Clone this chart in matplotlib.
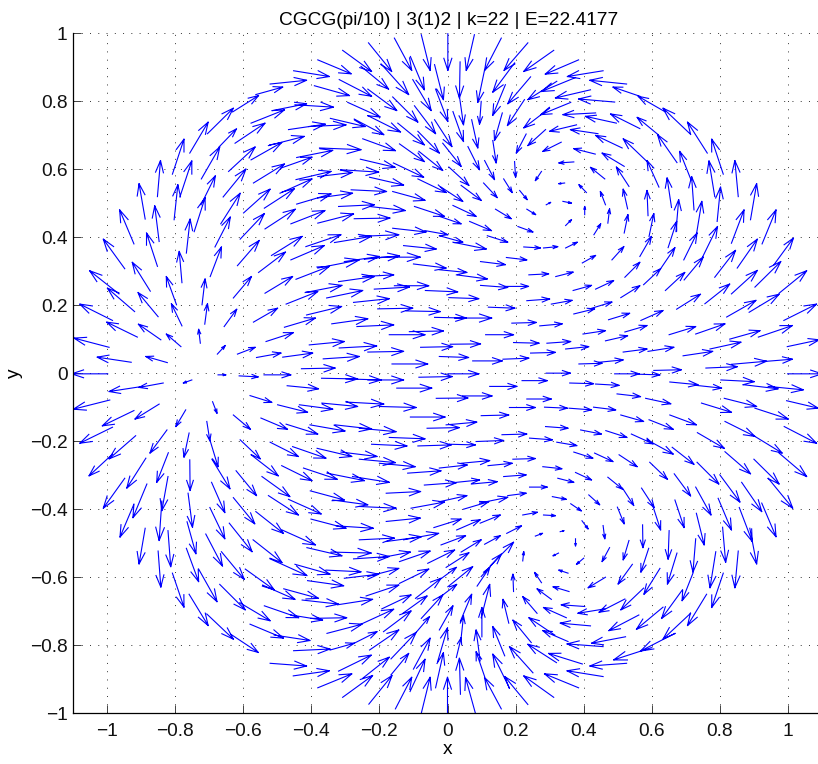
import numpy as np
from matplotlib import pyplot as plt
from matplotlib import rc

rc('font', family='Liberation Sans')

# each row: tail x, tail y, tip x, tip y (data units)
top_left = [
    (-.705,.704,-.629,.779),(-.631,.768,-.555,.816),(-.757,.647,-.703,.738),(-.624,.676,-.536,.735),
    (-.808,.585,-.774,.688),(-.786,.518,-.751,.624),(-.723,.571,-.669,.665),(-.671,.665,-.620,.718),
    (-.643,.593,-.565,.665),(-.852,.519,-.843,.625),(-.659,.518,-.592,.600),(-.888,.453,-.906,.557),
    (-.803,.451,-.792,.554),(-.744,.416,-.712,.516),(-.724,.495,-.682,.580),(-.666,.439,-.609,.529),
    (-.599,.471,-.521,.541),(-.921,.380,-.963,.480),(-.948,.307,-1.011,.394),(-.852,.314,-.884,.412),
    (-.847,.387,-.860,.492),(-.873,.241,-.926,.326),(-.965,.233,-1.051,.301),(-.919,.181,-.999,.250),
    (-.850,.166,-.909,.237),(-.796,.201,-.826,.284),(-.780,.266,-.788,.358),(-.767,.353,-.756,.453),
    (-.721,.201,-.712,.277),(-.697,.284,-.664,.371),(-.683,.371,-.638,.459),(-.617,.316,-.553,.390),
    (-.609,.394,-.538,.469),(-.629,.221,-.576,.284),(-.656,.137,-.619,.188),(-.713,.144,-.705,.204),
    (-.780,.139,-.811,.204),(-.984,.155,-1.080,.203),(-.911,.106,-1.001,.150),(-.842,.098,-.908,.144),
    (-.783,.078,-.826,.115),(-.726,.088,-.731,.129),(-.676,.056,-.653,.081),(-.617,.056,-.565,.076),
    (-.994,.076,-1.097,.103),(-.929,.032,-1.029,.047),(-.823,.031,-.886,.049),
]
top_mid_upper = [
    (-.452,.889,-.347,.872),(-.521,.850,-.414,.861),(-.381,.921,-.283,.880),(-.308,.949,-.223,.887),
    (-.232,.971,-.164,.887),(-.156,.985,-.105,.890),(-.077,.995,-.051,.890),(.001,.998,.001,.890),
    (-.563,.819,-.484,.841),(-.391,.845,-.288,.816),(-.318,.863,-.223,.814),(-.254,.902,-.173,.835),
    (-.195,.909,-.114,.819),(-.109,.931,-.068,.833),(-.038,.907,-.012,.804),(-.514,.772,-.414,.792),
    (-.448,.789,-.335,.782),(-.293,.796,-.198,.753),(-.234,.835,-.149,.772),(-.161,.812,-.087,.738),
    (-.102,.863,-.048,.772),(-.035,.835,.001,.740),(-.577,.735,-.479,.774),(-.467,.716,-.359,.732),
    (-.344,.749,-.242,.725),(-.408,.725,-.298,.730),(-.234,.757,-.138,.709),(-.146,.735,-.068,.671),
    (-.097,.786,-.035,.704),(-.038,.745,.013,.666),(-.249,.689,-.153,.654),(-.274,.747,-.187,.701),
    (-.376,.662,-.254,.657),(-.443,.634,-.337,.655),(-.526,.669,-.421,.696),(-.577,.627,-.487,.678),
    (-.087,.711,-.024,.647),(-.141,.674,-.068,.622),(-.084,.652,-.014,.596),(-.256,.629,-.154,.605),
    (-.159,.618,-.070,.576),(-.489,.603,-.398,.635),(-.570,.559,-.479,.615),(-.445,.569,-.342,.593),
    (-.381,.578,-.280,.590),(-.313,.598,-.202,.591),(-.229,.576,-.129,.553),(-.087,.571,-.004,.531),
    (-.538,.485,-.450,.542),(-.492,.529,-.398,.571),(-.443,.497,-.342,.527),(-.381,.515,-.279,.529),
    (-.283,.539,-.179,.534),(-.161,.534,-.066,.508),(-.320,.490,-.215,.495),(-.229,.490,-.124,.478),
    (-.097,.490,-.009,.461),
]
top_mid_lower = [
    (-.536,.424,-.447,.482),(-.460,.439,-.360,.478),(-.381,.441,-.276,.468),(-.274,.454,-.169,.456),
    (-.517,.346,-.427,.402),(-.416,.372,-.313,.407),(-.332,.384,-.224,.402),(-.259,.402,-.143,.407),
    (-.129,.375,-.033,.365),(-.555,.296,-.476,.356),(-.460,.333,-.362,.375),(-.445,.276,-.347,.314),
    (-.381,.309,-.259,.333),(-.303,.328,-.200,.343),(-.244,.335,-.141,.345),(-.195,.341,-.080,.341),
    (-.536,.235,-.455,.284),(-.474,.203,-.381,.240),(-.418,.237,-.310,.258),(-.355,.221,-.249,.243),
    (-.320,.269,-.215,.284),(-.249,.284,-.158,.289),(-.215,.247,-.112,.253),(-.156,.257,-.055,.257),
    (-.276,.208,-.171,.219),(-.205,.189,-.102,.191),(-.121,.183,-.021,.181),(-.570,.150,-.499,.191),
    (-.414,.171,-.311,.196),(-.479,.135,-.388,.162),(-.340,.145,-.234,.160),(-.266,.137,-.158,.142),
    (-.533,.093,-.453,.119),(-.406,.083,-.303,.093),(-.318,.074,-.208,.080),(-.234,.062,-.129,.064),
    (-.484,.047,-.396,.059),(-.561,.046,-.489,.059),(-.365,.042,-.259,.049),(-.429,.013,-.330,.015),
    (-.163,.027,-.058,.027),(-.161,.426,-.063,.415),(-.066,.419,.001,.407),(-.100,.321,-.004,.309),
    (-.065,.243,.030,.239),(-.038,.164,.055,.162),(-.079,.076,.015,.078),(-.171,.113,-.066,.113),
    (-.112,.122,-.012,.124),(-.024,.304,.057,.296),(-.024,.404,.045,.385),(-.024,.461,.040,.439),
    (-.024,.049,.062,.046),(-.019,.547,.045,.505),(-.014,.676,.040,.608),
]
top_right_upper = [
    (.037,.915,.035,.809),(.079,.995,.055,.890),(.158,.985,.109,.890),(.109,.892,.089,.796),
    (.236,.971,.166,.890),(.197,.912,.133,.826),(.312,.949,.224,.887),(.385,.921,.287,.879),
    (.457,.889,.352,.872),(.526,.850,.418,.861),(.244,.871,.177,.792),(.170,.848,.133,.758),
    (.321,.858,.236,.804),(.376,.869,.276,.828),(.420,.833,.317,.809),(.491,.797,.385,.806),
    (.565,.814,.486,.841),(.638,.769,.560,.814),(.712,.704,.633,.779),(.763,.647,.705,.738),
    (.674,.619,.617,.701),(.619,.701,.557,.752),(.565,.719,.479,.762),(.810,.585,.776,.688),
    (.715,.569,.682,.652),(.621,.547,.586,.625),(.584,.624,.516,.689),(.496,.735,.405,.755),
    (.435,.765,.339,.760),(.362,.796,.274,.760),(.300,.779,.224,.721),(.226,.804,.176,.728),
    (.161,.765,.138,.684),(.099,.799,.094,.732),(.035,.814,.047,.730),(.016,.769,.047,.681),
    (.071,.745,.089,.662),(.133,.684,.143,.618),(.060,.666,.094,.598),(.109,.625,.138,.569),
    (.197,.622,.200,.576),(.231,.703,.202,.647),(.288,.716,.236,.669),(.379,.730,.300,.711),
    (.442,.704,.361,.716),(.513,.662,.435,.699),(.334,.679,.280,.652),(.434,.644,.371,.660),
    (.519,.608,.454,.647),(.533,.549,.496,.606),(.371,.621,.327,.618),(.462,.571,.420,.605),
    (.276,.593,.258,.566),(.344,.559,.327,.557),(.408,.531,.386,.554),(.464,.495,.449,.534),
    (.529,.483,.516,.541),(.658,.487,.645,.574),(.724,.480,.717,.578),(.785,.519,.768,.624),
    (.854,.519,.844,.625),(.890,.451,.908,.557),(.792,.446,.802,.547),(.731,.407,.747,.505),
    (.671,.416,.679,.510),(.589,.463,.586,.537),(.004,.606,.063,.552),(.040,.552,.099,.508),
    (.106,.559,.146,.516),(.165,.571,.190,.531),(.212,.537,.234,.510),
]
top_right_lower = [
    (.016,.493,.084,.461),(.141,.482,.187,.454),(.233,.482,.259,.466),(.290,.495,.303,.502),
    (.339,.505,.364,.500),(.403,.466,.403,.490),(.471,.441,.476,.483),(.519,.412,.530,.466),
    (.430,.407,.450,.439),(.347,.434,.364,.451),(.207,.431,.251,.415),(.065,.446,.129,.419),
    (.117,.404,.177,.385),(.016,.385,.114,.365),(.224,.371,.273,.368),(.282,.368,.324,.372),
    (.347,.368,.381,.385),(.396,.324,.435,.346),(.483,.333,.518,.372),(.173,.340,.233,.333),
    (.097,.328,.170,.319),(.026,.289,.117,.277),(.239,.289,.297,.292),(.318,.284,.369,.297),
    (.369,.243,.423,.258),(.435,.247,.488,.272),(.521,.282,.565,.326),(.509,.222,.565,.257),
    (.097,.258,.177,.252),(.170,.255,.238,.255),(.004,.222,.092,.219),(.233,.213,.300,.218),
    (.305,.203,.366,.214),(.371,.174,.432,.189),(.424,.191,.483,.209),(.120,.194,.198,.191),
    (.021,.162,.130,.162),(.189,.147,.261,.149),(.271,.139,.337,.145),(.473,.157,.535,.176),
    (.398,.115,.464,.125),(.521,.121,.586,.140),(.464,.095,.529,.110),(.112,.113,.194,.113),
    (.194,.090,.269,.088),(.292,.088,.362,.093),(.347,.071,.415,.078),(.008,.085,.097,.086),
    (.244,.059,.317,.061),(.163,.041,.239,.044),(.074,.036,.161,.036),(.386,.027,.454,.029),
    (.445,.032,.516,.039),(.516,.062,.586,.071),(.589,.064,.665,.076),(.592,.402,.606,.469),
    (.648,.369,.673,.446),(.565,.343,.599,.402),(.694,.333,.733,.412),(.749,.341,.793,.431),
    (.834,.382,.871,.480),(.924,.380,.965,.480),(.785,.282,.846,.361),(.851,.309,.910,.394),
    (.959,.319,1.016,.397),(.903,.253,.979,.328),(.834,.233,.910,.302),(.695,.274,.751,.341),
    (.640,.243,.697,.296),(.576,.260,.626,.307),(.626,.307,.668,.369),(.756,.204,.829,.262),
    (.673,.188,.743,.232),(.568,.155,.633,.184),(.820,.165,.906,.214),(.886,.179,.974,.232),
    (.974,.235,1.055,.301),(.988,.155,1.084,.203),(.651,.113,.729,.137),(.729,.115,.815,.145),
    (.829,.100,.918,.125),(.913,.106,1.013,.140),(.771,.071,.862,.091),(.692,.051,.779,.064),
    (.998,.078,1.092,.098),(.759,.015,.851,.019),(.834,.026,.937,.035),(.927,.034,1.013,.041),
    (.606,.008,.687,.010),
]
bottom_left_upper = [
    (-.998,-.002,-1.104,-.002),(-.751,-.020,-.776,-.029),(-.674,-.005,-.651,-.005),(-.612,-.008,-.556,-.011),
    (-.539,-.005,-.460,-.005),(-.370,-.015,-.264,-.017),(-.298,-.017,-.195,-.020),(-.234,-.020,-.129,-.020),
    (-.084,-.012,.014,-.010),(-.149,-.044,-.046,-.044),(-.471,-.037,-.379,-.046),(-.835,-.029,-.906,-.042),
    (-.896,-.039,-.994,-.054),(-.992,-.079,-1.099,-.106),(-.921,-.110,-1.014,-.155),(-.847,-.091,-.918,-.135),
    (-.769,-.108,-.798,-.157),(-.690,-.084,-.677,-.118),(-.580,-.066,-.516,-.086),(-.499,-.093,-.411,-.115),
    (-.435,-.093,-.337,-.106),(-.369,-.088,-.264,-.098),(-.298,-.085,-.187,-.091),(-.200,-.098,-.092,-.101),
    (-.033,-.074,.060,-.073),(-.109,-.129,-.007,-.129),(-.629,-.123,-.579,-.165),(-.548,-.132,-.470,-.165),
    (-.474,-.150,-.381,-.179),(-.404,-.152,-.301,-.170),(-.330,-.152,-.223,-.164),(-.259,-.162,-.151,-.172),
    (-.060,-.162,.035,-.160),(-.004,-.152,.086,-.144),(-.171,-.189,-.066,-.193),(-.984,-.159,-1.080,-.206),
    (-.916,-.184,-.994,-.252),(-.984,-.238,-1.053,-.302),(-.824,-.167,-.874,-.235),(-.759,-.176,-.774,-.247),
    (-.707,-.142,-.698,-.199),(-.697,-.199,-.674,-.275),(-.692,-.253,-.639,-.340),(-.609,-.196,-.550,-.252),
    (-.577,-.240,-.497,-.302),(-.521,-.203,-.438,-.245),(-.455,-.216,-.357,-.250),(-.383,-.221,-.281,-.245),
    (-.313,-.232,-.207,-.245),(-.259,-.253,-.153,-.263),(-.200,-.265,-.095,-.275),(-.223,-.209,-.119,-.214),
    (-.087,-.214,.011,-.211),(-.117,-.294,-.019,-.287),(-.068,-.329,.026,-.322),(-.024,-.279,.058,-.270),
    (-.886,-.250,-.942,-.338),(-.820,-.234,-.854,-.321),(-.757,-.255,-.756,-.345),(-.948,-.309,-1.011,-.397),
    (-.883,-.326,-.924,-.425),(-.821,-.304,-.839,-.404),(-.762,-.353,-.749,-.453),(-.693,-.321,-.654,-.410),
    (-.621,-.287,-.561,-.360),(-.545,-.304,-.463,-.363),(-.487,-.272,-.398,-.316),(-.423,-.279,-.324,-.312),
    (-.354,-.294,-.244,-.316),(-.279,-.304,-.171,-.321),(-.403,-.346,-.303,-.373),(-.337,-.373,-.234,-.387),
    (-.259,-.392,-.151,-.397),(-.180,-.353,-.079,-.348),(-.107,-.397,-.009,-.379),(-.526,-.360,-.438,-.417),
    (-.467,-.371,-.371,-.414),(-.629,-.366,-.566,-.443),(-.563,-.407,-.482,-.471),(-.486,-.461,-.388,-.505),
    (-.401,-.429,-.298,-.456),(-.327,-.449,-.218,-.456),(-.180,-.436,-.080,-.426),(-.259,-.490,-.156,-.485),
    (-.180,-.495,-.077,-.481),(-.129,-.490,-.026,-.471),(-.040,-.454,.040,-.429),(-.839,-.376,-.847,-.492),
    (-.921,-.385,-.962,-.482),
]
bottom_left_lower = [
    (-.888,-.456,-.906,-.561),(-.821,-.463,-.813,-.569),(-.850,-.523,-.842,-.629),(-.698,-.395,-.654,-.487),
    (-.641,-.441,-.574,-.525),(-.765,-.437,-.739,-.531),(-.710,-.473,-.661,-.567),(-.664,-.525,-.597,-.606),
    (-.571,-.490,-.486,-.557),(-.521,-.546,-.413,-.595),(-.448,-.562,-.345,-.591),(-.413,-.513,-.310,-.537),
    (-.342,-.526,-.224,-.529),(-.276,-.546,-.171,-.539),(-.202,-.544,-.109,-.526),(-.141,-.554,-.051,-.523),
    (-.058,-.559,.021,-.520),(-.357,-.579,-.254,-.584),(-.303,-.603,-.202,-.591),(-.234,-.598,-.143,-.574),
    (-.141,-.618,-.055,-.576),(-.411,-.610,-.305,-.625),(-.481,-.634,-.379,-.662),(-.594,-.576,-.509,-.637),
    (-.543,-.623,-.448,-.665),(-.427,-.667,-.320,-.679),(-.323,-.681,-.220,-.665),(-.239,-.655,-.143,-.623),
    (-.193,-.693,-.107,-.652),(-.094,-.662,-.019,-.603),(-.808,-.588,-.774,-.688),(-.731,-.576,-.677,-.672),
    (-.669,-.621,-.594,-.696),(-.610,-.675,-.521,-.728),(-.538,-.684,-.437,-.719),(-.460,-.711,-.367,-.726),
    (-.401,-.721,-.296,-.719),(-.354,-.765,-.251,-.738),(-.254,-.738,-.158,-.694),(-.759,-.650,-.703,-.742),
    (-.707,-.708,-.629,-.782),(-.636,-.768,-.556,-.821),(-.580,-.738,-.482,-.779),(-.509,-.770,-.404,-.786),
    (-.452,-.816,-.345,-.811),(-.345,-.814,-.274,-.794),(-.229,-.814,-.143,-.755),(-.274,-.794,-.207,-.760),
    (-.521,-.853,-.414,-.861),(-.453,-.890,-.347,-.875),(-.381,-.925,-.281,-.884),(-.320,-.876,-.224,-.829),
    (-.308,-.953,-.220,-.889),(-.249,-.897,-.171,-.835),(-.231,-.973,-.163,-.889),(-.166,-.840,-.092,-.762),
    (-.188,-.760,-.107,-.699),(-.092,-.762,-.053,-.716),(-.153,-.987,-.105,-.894),(-.166,-.887,-.114,-.824),
    (-.110,-.936,-.066,-.841),(-.100,-.870,-.051,-.779),(-.077,-1.0,-.051,-.894),(-.035,-.925,-.012,-.822),
    (-.029,-.848,0,-.749),(0,-1.0,0,-.894),(-.077,-.721,-.014,-.652),(-.131,-.706,-.060,-.655),
    (-.767,-.515,-.731,-.613),
]
bottom_right_upper = [
    (.001,-.002,.092,-.002),(.124,-.039,.204,-.039),(.219,-.022,.293,-.022),(.290,0,.361,0),
    (.359,-.029,.429,-.031),(.435,-.032,.504,-.036),(.491,-.002,.563,-.002),(.555,-.003,.624,-.005),
    (.653,-.026,.736,-.034),(.731,-.036,.805,-.044),(.803,-.020,.901,-.025),(.869,-.034,.971,-.046),
    (.942,-.039,1.045,-.049),(.999,-.002,1.100,-.002),(.045,-.067,.131,-.067),(.182,-.101,.258,-.101),
    (.233,-.076,.305,-.076),(.285,-.100,.352,-.103),(.357,-.103,.423,-.108),(.429,-.100,.494,-.108),
    (.498,-.061,.567,-.069),(.582,-.074,.656,-.090),(.746,-.088,.834,-.115),(.813,-.074,.908,-.098),
    (.903,-.103,1.001,-.135),(.996,-.081,1.089,-.103),(.099,-.125,.180,-.123),(.288,-.157,.354,-.162),
    (.509,-.123,.576,-.142),(.592,-.137,.663,-.165),(.653,-.123,.731,-.152),(.391,-.167,.452,-.179),
    (.465,-.169,.527,-.189),(.540,-.179,.604,-.208),(.586,-.196,.663,-.238),(.734,-.175,.813,-.221),
    (.815,-.142,.903,-.186),(.903,-.186,.983,-.235),(.989,-.157,1.084,-.206),(.160,-.181,.233,-.179),
    (.241,-.191,.308,-.196),(.321,-.203,.380,-.213),(.084,-.201,.165,-.198),(.006,-.209,.082,-.211),
    (.371,-.232,.427,-.250),(.432,-.235,.486,-.260),(.504,-.240,.557,-.275),(.660,-.218,.724,-.268),
    (.192,-.253,.258,-.251),(.119,-.272,.190,-.265),(.040,-.265,.124,-.257),(.280,-.275,.336,-.281),
    (.165,-.304,.231,-.299),(.324,-.309,.371,-.321),(.376,-.292,.423,-.314),(.594,-.262,.646,-.312),
    (.733,-.262,.797,-.326),(.815,-.231,.890,-.296),(.900,-.253,.974,-.326),(.974,-.235,1.055,-.304),
    (.471,-.306,.514,-.341),(.666,-.296,.714,-.361),(.800,-.299,.859,-.379),(.864,-.321,.923,-.407),
    (.942,-.309,1.014,-.397),(.026,-.321,.094,-.314),(.070,-.326,.146,-.319),(.241,-.335,.293,-.335),
    (.177,-.360,.231,-.353),(.094,-.382,.177,-.365),(.047,-.400,.121,-.378),(-.024,-.378,.057,-.360),
    (.308,-.363,.349,-.371),(.362,-.384,.393,-.405),(.415,-.358,.447,-.387),(.514,-.338,.547,-.389),
    (.570,-.338,.607,-.395),(.729,-.335,.774,-.417),(.795,-.368,.834,-.461),(.668,-.373,.695,-.454),
    (.602,-.387,.626,-.461),(.499,-.394,.519,-.443),(.221,-.417,.264,-.409),(.282,-.417,.317,-.419),
    (.395,-.434,.413,-.458),(.331,-.466,.342,-.463),(.258,-.479,.279,-.471),(.174,-.471,.217,-.449),
    (.096,-.441,.155,-.417),(.027,-.461,.096,-.431),(.457,-.448,.462,-.487),(.573,-.446,.574,-.513),
    (.731,-.412,.754,-.505),(.857,-.395,.895,-.495),(.923,-.382,.965,-.481),(.376,-.487,.376,-.508),
    (-.019,-.505,.053,-.478),
]
bottom_right_lower = [
    (.194,-.642,.192,-.591),(.221,-.552,.224,-.525),(.276,-.616,.256,-.586),(.326,-.529,.310,-.537),
    (.354,-.588,.327,-.579),(.400,-.544,.379,-.562),(.476,-.513,.454,-.554),(.533,-.492,.516,-.549),
    (.591,-.515,.568,-.585),(.543,-.562,.501,-.620),(.464,-.600,.413,-.631),(.357,-.642,.310,-.628),
    (.305,-.665,.263,-.634),(.263,-.706,.221,-.657),(.349,-.719,.282,-.689),(.403,-.686,.334,-.681),
    (.462,-.693,.383,-.706),(.521,-.664,.445,-.703),(.576,-.632,.509,-.696),(.624,-.574,.577,-.650),
    (.674,-.529,.646,-.620),(.651,-.463,.648,-.547),(.729,-.487,.721,-.585),(.721,-.588,.689,-.669),
    (.690,-.637,.629,-.721),(.562,-.711,.474,-.757),(.633,-.688,.555,-.753),(.714,-.706,.633,-.782),
    (.761,-.650,.705,-.742),(.810,-.588,.776,-.689),(.788,-.525,.771,-.631),(.854,-.523,.844,-.631),
    (.888,-.456,.908,-.561),(.808,-.453,.817,-.556),(.668,-.765,.567,-.817),(.599,-.807,.488,-.843),
    (.526,-.853,.418,-.861),(.457,-.892,.351,-.875),(.385,-.925,.285,-.884),(.396,-.855,.297,-.824),
    (.320,-.851,.236,-.797),(.312,-.953,.224,-.890),(.251,-.881,.182,-.804),(.236,-.974,.168,-.892),
    (.158,-.987,.109,-.895),(.182,-.926,.133,-.826),(.082,-1.0,.053,-.895),(.038,-.944,.035,-.838),
    (.109,-.892,.084,-.819),(.168,-.831,.133,-.745),(.246,-.792,.192,-.726),(.457,-.804,.351,-.796),
    (.523,-.775,.423,-.794),(.315,-.770,.239,-.719),(.354,-.789,.280,-.757),(.420,-.743,.331,-.735),
    (.040,-.526,.099,-.490),(.109,-.503,.155,-.478),(-.004,-.571,.063,-.528),(.126,-.566,.194,-.497),
    (.099,-.598,.158,-.532),(.087,-.626,.124,-.571),(.001,-.628,.074,-.569),(-.024,-.608,.026,-.571),
    (-.024,-.660,.027,-.621),(.038,-.729,.071,-.650),(-.024,-.755,.016,-.684),(.099,-.719,.124,-.621),
    (.101,-.775,.101,-.689),(.180,-.735,.163,-.665),(.040,-.779,.047,-.714),(.026,-.836,.040,-.778),
    (.096,-.846,.084,-.755),
]

tick_pos = [-1, -.8, -.6, -.4, -.2, 0, .2, .4, .6, .8, 1]
tick_lab = ['\u22121', '\u22120.8', '\u22120.6', '\u22120.4', '\u22120.2', '0', '0.2', '0.4', '0.6', '0.8', '1']

arrows = np.array(top_left + top_mid_upper + top_mid_lower + top_right_upper + top_right_lower
                  + bottom_left_upper + bottom_left_lower + bottom_right_upper + bottom_right_lower)
x0, y0, x1, y1 = arrows.T
u = x1 - x0
v = y1 - y0

# open v-shaped heads, a third of the shaft long
a = 0.33
b = 0.33
nan = np.full_like(x0, np.nan)
px = np.column_stack([x0, x1, nan, x1 - a * (u + b * v), x1, x1 - a * (u - b * v), nan]).ravel()
py = np.column_stack([y0, y1, nan, y1 - a * (v - b * u), y1, y1 - a * (v + b * u), nan]).ravel()

f = plt.figure(figsize=(8.18, 7.64), dpi=100)
ax = f.add_axes([73 / 818, (764 - 713.3) / 764, 749 / 818, 680.3 / 764])
ax.plot(px, py, color=(0, 0, 1), lw=0.8, solid_joinstyle='miter')
ax.set_xlim(-1.1, 1.1)
ax.set_ylim(-1, 1)
ax.set_xticks(tick_pos, tick_lab)
ax.set_yticks(tick_pos, tick_lab)
ax.tick_params(direction='in', length=6, width=0.6, labelsize=13.8, color='#222222', labelcolor='#111111')
ax.tick_params(axis='x', pad=7)
ax.tick_params(axis='y', pad=4)
ax.grid(True, color='#333333', lw=0.7, ls=(0, (1, 7.5)))
ax.set_axisbelow(True)
ax.spines['top'].set_visible(False)
ax.spines['right'].set_visible(False)
ax.spines['left'].set_linewidth(0.9)
ax.spines['bottom'].set_linewidth(0.9)
ax.set_xlabel('x', fontsize=13.8, labelpad=1)
ax.set_ylabel('y', fontsize=13.8, labelpad=5)
ax.set_title('CGCG(pi/10) | 3(1)2 | k=22 | E=22.4177', fontsize=13.8, x=(448.5 - 73) / 749, pad=6)
f.savefig('out.png', dpi=100)
